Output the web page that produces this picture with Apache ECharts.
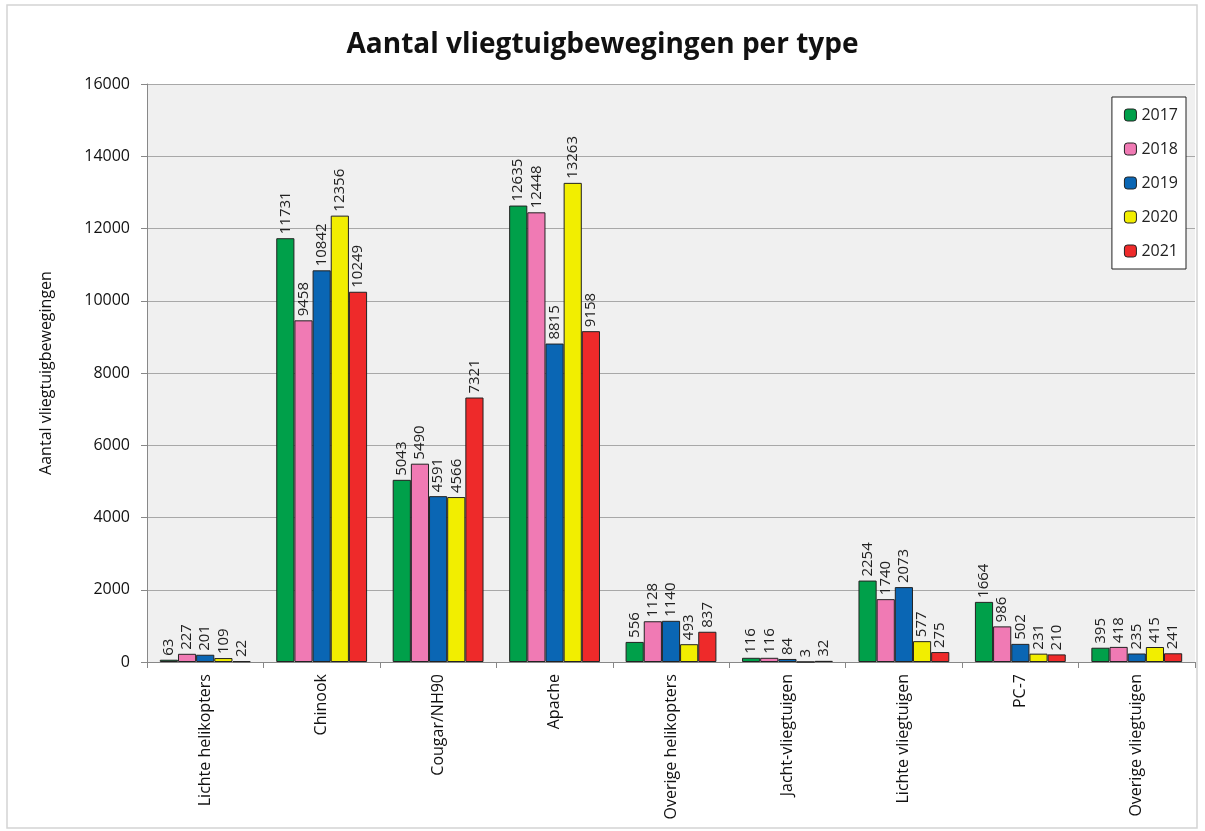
<!DOCTYPE html>
<html><head><meta charset="utf-8">
<script src="https://cdn.jsdelivr.net/npm/echarts@6/dist/echarts.min.js"></script>
<style>html,body{margin:0;padding:0;background:#fff}#c{width:1205px;height:831px}</style>
</head><body><div id="c"></div>
<script>
const categories = ['Lichte helikopters','Chinook','Cougar/NH90','Apache','Overige helikopters','Jacht-vliegtuigen','Lichte vliegtuigen','PC-7','Overige vliegtuigen'];
const years = ['2017','2018','2019','2020','2021'];
const v2017 = [63,11731,5043,12635,556,116,2254,1664,395];
const v2018 = [227,9458,5490,12448,1128,116,1740,986,418];
const v2019 = [201,10842,4591,8815,1140,84,2073,502,235];
const v2020 = [109,12356,4566,13263,493,3,577,231,415];
const v2021 = [22,10249,7321,9158,837,32,275,210,241];
const yTicks = [0,2000,4000,6000,8000,10000,12000,14000,16000];
const colors = ['#00a04a','#f07ab4','#0a66b4','#f2ee00','#ee2a2a'];
const allData = [v2017,v2018,v2019,v2020,v2021];
const font = "'Open Sans', 'Liberation Sans', sans-serif";
const chart = echarts.init(document.getElementById('c'));
chart.setOption({
  animation:false,
  textStyle:{fontFamily:font},
  title:{text:'Aantal vliegtuigbewegingen per type',left:'center',top:26,textStyle:{fontSize:28,fontWeight:'bold',color:'#111',fontFamily:font}},
  graphic:[{type:'rect',shape:{x:7,y:5,width:1190,height:823},style:{fill:'none',stroke:'#d4d4d4',lineWidth:1.5},z:-10}],
  legend:{orient:'vertical',right:19,top:97,itemWidth:12,itemHeight:12,itemGap:18,padding:[10,8,10,12],
    backgroundColor:'#fff',borderColor:'#222',borderWidth:1,
    textStyle:{fontSize:16,color:'#222',fontFamily:font},data:years,
    itemStyle:{borderColor:'#222',borderWidth:1}},
  grid:{left:147,right:10,top:84,bottom:169,show:true,backgroundColor:'#f0f0f0',borderWidth:0},
  xAxis:{type:'category',data:categories,
    axisLine:{lineStyle:{color:'#888'}},
    axisTick:{show:true,length:6,lineStyle:{color:'#888'}},
    axisLabel:{rotate:90,fontSize:16,color:'#111',margin:12,interval:0}},
  yAxis:{type:'value',min:0,max:16000,interval:2000,
    name:'Aantal vliegtuigbewegingen',nameLocation:'middle',nameGap:93,nameRotate:90,
    nameTextStyle:{fontSize:16,color:'#111'},
    axisLine:{show:true,lineStyle:{color:'#888'}},
    axisTick:{show:true,length:6,lineStyle:{color:'#888'}},
    axisLabel:{fontSize:16,color:'#111',margin:17,formatter:v=>yTicks.includes(v)?String(v):''},
    splitLine:{lineStyle:{color:'#a8a8a8',width:1}}},
  series: years.map((y,i)=>({
    name:y,type:'bar',data:allData[i],barGap:'0%',barCategoryGap:'22%',
    itemStyle:{color:colors[i],borderColor:'#222',borderWidth:1},
    label:{show:true,position:'top',rotate:90,align:'left',verticalAlign:'middle',distance:4,fontSize:15,color:'#222'}
  }))
});
</script></body></html>
